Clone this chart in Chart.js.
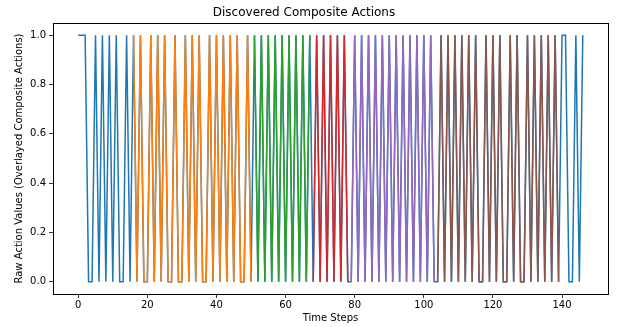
<!DOCTYPE html>
<html>
<head>
<meta charset="utf-8">
<script src="https://cdn.jsdelivr.net/npm/chart.js@4"></script>
<style>
  html, body { margin: 0; padding: 0; background: #fff; }
</style>
</head>
<body>
<canvas id="chart" width="617" height="327"></canvas>
<script>
// raw action value at each time step (0..146)
const actionValues = [
  1,1,1,0,0,1,0,1,0,1,0,1,0,0,1,0,
  1,0,1,0,0,1,0,1,0,1,0,0,1,0,0,1,0,1,0,1,0,0,1,0,1,0,1,0,1,0,1,0,0,1,0,
  1,0,1,0,1,0,1,0,1,0,1,0,1,0,1,0,1,
  0,1,0,1,0,1,0,1,0,1,0,
  0,1,0,1,0,1,0,1,0,1,0,1,0,1,0,1,0,1,0,1,0,1,0,1,0,
  0,1,0,1,0,1,0,1,0,1,0,1,0,0,1,0,1,0,1,0,0,1,0,1,0,0,1,0,1,0,1,0,1,0,1,0,
  1,1,0,0,1,0,1
];

// composite action segments (first / last time step)
const segmentStart = [16, 51, 68, 79, 104];
const segmentEnd   = [50, 67, 78, 103, 139];
const segmentColors = ['#ff7f0e', '#2ca02c', '#d62728', '#9467bd', '#8c564b'];

const xTicks = [0, 20, 40, 60, 80, 100, 120, 140];
const yTicks = [0, 0.2, 0.4, 0.6, 0.8, 1.0];

const allPoints = actionValues.map((v, i) => ({ x: i, y: v }));

const datasets = segmentStart.map((s, k) => ({
  data: allPoints.filter(p => p.x >= s && p.x <= segmentEnd[k]),
  borderColor: segmentColors[k],
  borderWidth: 1.5,
  pointRadius: 0,
  tension: 0,
  fill: false
}));
// full series underneath (drawn last = bottom)
datasets.push({
  data: allPoints,
  borderColor: '#1f77b4',
  borderWidth: 1.5,
  pointRadius: 0,
  tension: 0,
  fill: false
});

const frame = {
  id: 'frame',
  afterDatasetsDraw(chart) {
    const a = chart.chartArea;
    const ctx = chart.ctx;
    ctx.save();
    ctx.strokeStyle = '#000';
    ctx.lineWidth = 1;
    ctx.strokeRect(Math.round(a.left) + 0.5, Math.round(a.top) + 0.5,
                   Math.round(a.right - a.left), Math.round(a.bottom - a.top));
    ctx.restore();
  }
};

Chart.defaults.font.family = 'DejaVu Sans';
Chart.defaults.color = '#000';

new Chart(document.getElementById('chart'), {
  type: 'line',
  data: { datasets },
  options: {
    responsive: false,
    animation: false,
    layout: { padding: { left: 0, right: 9, top: 0, bottom: 0 } },
    plugins: {
      legend: { display: false },
      tooltip: { enabled: false },
      title: {
        display: true,
        text: 'Discovered Composite Actions',
        font: { size: 12, weight: 'normal' },
        color: '#000',
        padding: { top: 6, bottom: 2.6 }
      }
    },
    scales: {
      x: {
        type: 'linear',
        min: -7.3,
        max: 153.3,
        afterBuildTicks: s => { s.ticks = xTicks.map(v => ({ value: v })); },
        afterFit: s => { s.height = 33; },
        grid: { drawOnChartArea: false, drawTicks: true, tickLength: 4, color: '#000', lineWidth: 0.8 },
        border: { display: false },
        ticks: { font: { size: 10 }, padding: 1, maxRotation: 0, color: '#000' },
        title: { display: true, text: 'Time Steps', font: { size: 10 }, padding: { top: 0, bottom: 3 }, color: '#000' }
      },
      y: {
        min: -0.05,
        max: 1.05,
        afterBuildTicks: s => { s.ticks = yTicks.map(v => ({ value: v })); },
        afterFit: s => { s.width = 53; },
        grid: { drawOnChartArea: false, drawTicks: true, tickLength: 4, color: '#000', lineWidth: 0.8 },
        border: { display: false },
        ticks: { font: { size: 10 }, padding: 3, color: '#000', callback: v => v.toFixed(1) },
        title: { display: true, text: 'Raw Action Values (Overlayed Composite Actions)', font: { size: 10 }, padding: { top: 13, bottom: 0 }, color: '#000' }
      }
    }
  },
  plugins: [frame]
});
</script>
</body>
</html>
